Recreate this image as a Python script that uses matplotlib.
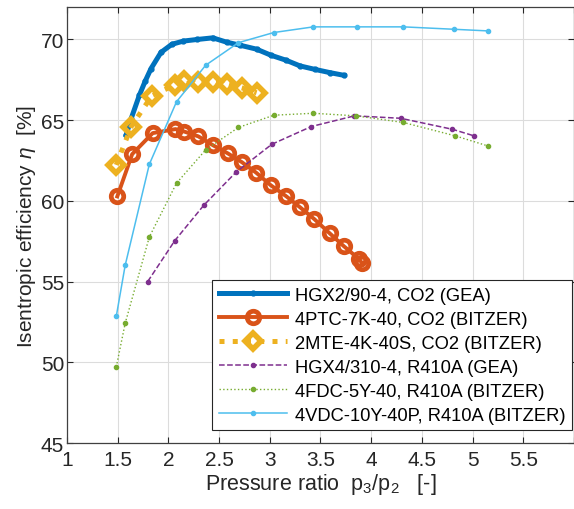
import matplotlib
matplotlib.use('Agg')
from matplotlib import pyplot as plt

plt.rcParams['font.family'] = ['Liberation Sans', 'DejaVu Sans']
plt.rcParams['mathtext.fontset'] = 'custom'
plt.rcParams['mathtext.rm'] = 'Liberation Sans'
plt.rcParams['mathtext.it'] = 'Liberation Sans:italic'

# HGX2/90-4, CO2 (GEA)
x_hgx2 = [1.584, 1.633, 1.714, 1.77, 1.829, 1.927, 2.034, 2.148, 2.285, 2.438, 2.575,
          2.709, 2.869, 3.013, 3.162, 3.299, 3.443, 3.59, 3.73]
y_hgx2 = [64.1, 65.1, 66.55, 67.4, 68.2, 69.2, 69.7, 69.9, 70.0, 70.1, 69.83,
          69.64, 69.4, 69.02, 68.71, 68.36, 68.15, 67.95, 67.78]
# 4PTC-7K-40, CO2 (BITZER)
x_4ptc = [1.496, 1.643, 1.845, 2.07, 2.155, 2.295, 2.44, 2.585, 2.725, 2.866, 3.01,
          3.16, 3.30, 3.44, 3.59, 3.73, 3.88, 3.91]
y_4ptc = [60.28, 62.9, 64.2, 64.45, 64.3, 64.0, 63.45, 62.95, 62.4, 61.75, 60.97,
          60.3, 59.6, 58.87, 58.0, 57.2, 56.4, 56.15]
# 2MTE-4K-40S, CO2 (BITZER)
x_2mte = [1.486, 1.633, 1.835, 2.067, 2.155, 2.29, 2.44, 2.58, 2.725, 2.87]
y_2mte = [62.23, 64.6, 66.5, 67.2, 67.45, 67.35, 67.35, 67.25, 67.0, 66.7]
# HGX4/310-4, R410A (GEA)
x_hgx4 = [1.796, 2.064, 2.35, 2.67, 3.02, 3.41, 3.835, 4.29, 4.80, 5.015]
y_hgx4 = [55.01, 57.55, 59.74, 61.8, 63.51, 64.61, 65.27, 65.12, 64.44, 64.03]
# 4FDC-5Y-40, R410A (BITZER)
x_4fdc = [1.486, 1.574, 1.812, 2.08, 2.367, 2.69, 3.04, 3.43, 3.85, 4.317, 4.83, 5.149]
y_4fdc = [49.72, 52.43, 57.77, 61.1, 63.16, 64.55, 65.31, 65.43, 65.27, 64.86, 64.03, 63.41]
# 4VDC-10Y-40P, R410A (BITZER)
x_4vdc = [1.486, 1.574, 1.812, 2.08, 2.367, 2.69, 3.04, 3.43, 3.857, 4.317, 4.82, 5.149]
y_4vdc = [52.85, 56.02, 62.27, 66.14, 68.4, 69.8, 70.43, 70.78, 70.78, 70.78, 70.63, 70.53]

labels = ['HGX2/90-4, CO2 (GEA)', '4PTC-7K-40, CO2 (BITZER)', '2MTE-4K-40S, CO2 (BITZER)',
          'HGX4/310-4, R410A (GEA)', '4FDC-5Y-40, R410A (BITZER)', '4VDC-10Y-40P, R410A (BITZER)']

fig = plt.figure(figsize=(5.74, 5.10), dpi=100)
ax = fig.add_axes([0.1167, 0.129, 0.8833, 0.855])

ax.plot(x_hgx2, y_hgx2, '-', color='#0072BD', lw=3.6, marker='.', ms=7, label=labels[0])
ax.plot(x_4ptc, y_4ptc, '-', color='#D95319', lw=2.8, marker='o', ms=9, mfc='none', mew=3.4,
        label=labels[1])
ax.plot(x_2mte, y_2mte, ':', color='#EDB120', lw=3.6, marker='D', ms=8, mfc='none', mew=4,
        label=labels[2])
ax.plot(x_hgx4, y_hgx4, '--', color='#7E2F8E', lw=1.1, marker='.', ms=6, label=labels[3])
ax.plot(x_4fdc, y_4fdc, ':', color='#77AC30', lw=1.0, marker='.', ms=6, label=labels[4])
ax.plot(x_4vdc, y_4vdc, '-', color='#4DBEEE', lw=1.1, marker='.', ms=6, label=labels[5])

ax.set_xlim(1, 6)
ax.set_ylim(45, 72)
ax.set_xticks([1, 1.5, 2, 2.5, 3, 3.5, 4, 4.5, 5, 5.5, 6])
ax.set_xticklabels(['1', '1.5', '2', '2.5', '3', '3.5', '4', '4.5', '5', '5.5', ''])
ax.set_yticks([45, 50, 55, 60, 65, 70])
ax.grid(True, color='#dcdcdc', lw=0.8)
ax.set_axisbelow(True)
for s in ax.spines.values():
    s.set_color('#404040')
    s.set_linewidth(0.9)
ax.tick_params(direction='in', top=True, right=True, length=4, colors='#262626',
               labelsize=15)
ax.tick_params(axis='x', pad=5)
ax.tick_params(axis='y', pad=2)

ax.set_xlabel('Pressure ratio  p$_3$/p$_2$   [-]', fontsize=15.5, color='#262626', labelpad=1)
ax.set_ylabel(r'Isentropic efficiency $\eta$  [%]', fontsize=15, color='#262626', labelpad=2)

leg = ax.legend(loc='lower right', bbox_to_anchor=(0.996, 0.03), fontsize=13.2, handlelength=3.7,
                fancybox=False, framealpha=1, edgecolor='#262626', borderpad=0.35,
                labelspacing=0.38, handletextpad=0.45, borderaxespad=0)
leg.get_frame().set_linewidth(0.8)

plt.savefig('out.png', dpi=100)
plt.close()
